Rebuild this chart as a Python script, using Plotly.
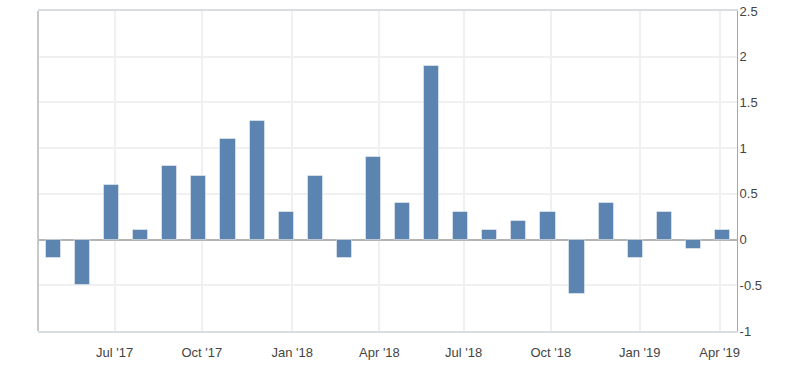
import numpy as np
import pandas as pd
import plotly.graph_objects as go

# Observation dates (ordinal axis: bars are evenly spaced, one per observation)
bar_dates = [
    "2017-04-28", "2017-05-28", "2017-06-28", "2017-07-28", "2017-08-28", "2017-09-28",
    "2017-10-28", "2017-11-28", "2017-12-25", "2018-01-28", "2018-02-25", "2018-03-25",
    "2018-04-28", "2018-05-28", "2018-06-28", "2018-07-28", "2018-08-28", "2018-09-28",
    "2018-10-28", "2018-11-28", "2018-12-27", "2019-01-28", "2019-03-04", "2019-04-04",
]
values = [
    -0.2, -0.5, 0.6, 0.1, 0.8, 0.7, 1.1, 1.3, 0.3, 0.7, -0.2, 0.9,
    0.4, 1.9, 0.3, 0.1, 0.2, 0.3, -0.6, 0.4, -0.2, 0.3, -0.1, 0.1,
]
tick_dates = ["2017-07-01", "2017-10-01", "2018-01-01", "2018-04-01",
              "2018-07-01", "2018-10-01", "2019-01-01", "2019-04-01"]
tick_labels = ["Jul '17", "Oct '17", "Jan '18", "Apr '18",
               "Jul '18", "Oct '18", "Jan '19", "Apr '19"]
y_ticks = [-1, -0.5, 0, 0.5, 1, 1.5, 2, 2.5]
y_tick_labels = ["-1", "-0.5", "0", "0.5", "1", "1.5", "2", "2.5"]

# ordinal positions
idx = np.arange(len(values))
bd = pd.to_datetime(bar_dates).astype("int64").to_numpy()
td = pd.to_datetime(tick_dates).astype("int64").to_numpy()
tick_pos = np.interp(td, bd, idx)

BAR = "#5b84b1"
TXT = "#444444"

fig = go.Figure(
    go.Bar(
        x=idx,
        y=values,
        width=0.52,
        marker=dict(color=BAR, line=dict(color="rgba(255,255,255,0.45)", width=1)),
        hoverinfo="y",
    )
)

fig.update_layout(
    width=800,
    height=371,
    margin=dict(l=38, r=63, t=11, b=40, autoexpand=False),
    paper_bgcolor="white",
    plot_bgcolor="white",
    showlegend=False,
    font=dict(family="Liberation Sans, Arial, sans-serif", size=13, color=TXT),
    bargap=0,
    shapes=[
        dict(type="line", xref="paper", yref="paper", x0=0, x1=0, y0=0, y1=1,
             line=dict(color="#c8c8c8", width=2), layer="above"),
    ],
)

fig.update_xaxes(
    range=[-0.533, 23.5],
    tickmode="array",
    tickvals=tick_pos,
    ticktext=tick_labels,
    showgrid=True,
    gridcolor="#f0f0f0",
    gridwidth=2,
    zeroline=False,
    showline=True,
    mirror=True,
    linecolor="#d8dde3",
    linewidth=2,
    ticks="outside",
    ticklen=8,
    tickcolor="rgba(0,0,0,0)",
    tickfont=dict(size=13, color=TXT),
    fixedrange=True,
    automargin=False,
)

fig.update_yaxes(
    side="right",
    range=[-1, 2.5],
    tickmode="array",
    tickvals=y_ticks,
    ticktext=y_tick_labels,
    showgrid=True,
    gridcolor="#f0f0f0",
    gridwidth=2,
    zeroline=True,
    zerolinecolor="#b4b4b4",
    zerolinewidth=2,
    showline=True,
    linecolor="#a8a8a8",
    linewidth=1,
    ticks="",
    ticklabelstandoff=-1,
    tickfont=dict(size=13, color=TXT),
    fixedrange=True,
    automargin=False,
)

# remove the default 8px page margin so the figure sits at the window origin
fig.write_html(
    "out.html",
    config={"displayModeBar": False},
    post_script="document.body.style.margin='0';",
)
